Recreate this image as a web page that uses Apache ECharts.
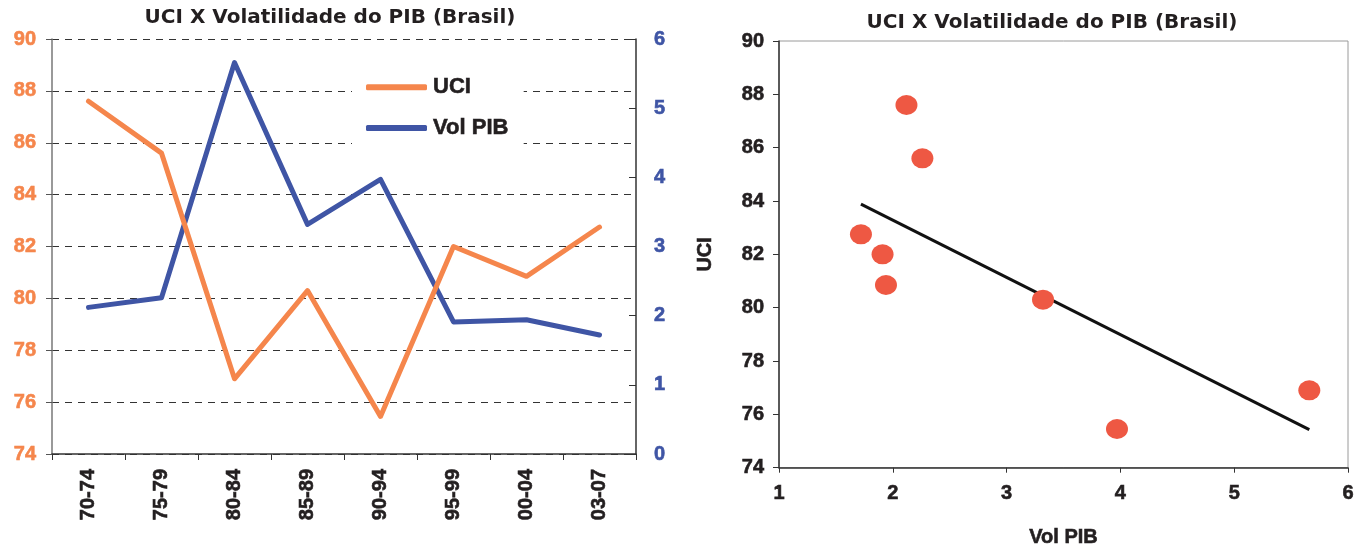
<!DOCTYPE html>
<html>
<head>
<meta charset="utf-8">
<script src="https://cdn.jsdelivr.net/npm/echarts@6/dist/echarts.min.js"></script>
<style>
html,body{margin:0;padding:0;background:#fff;}
#c{width:1367px;height:553px;}
</style>
</head>
<body>
<div id="c"></div>
<script>
const titleText = 'UCI X Volatilidade do PIB (Brasil)';
const categories = ['70-74','75-79','80-84','85-89','90-94','95-99','00-04','03-07'];
const uci = [87.6, 85.6, 76.9, 80.3, 75.45, 82.0, 80.85, 82.75];
const volPib = [2.12, 2.26, 5.66, 3.32, 3.97, 1.91, 1.94, 1.72];

const orange = '#F5864C';
const blue = '#3F55A5';
const red = '#EE5843';
const dark = '#231F20';
const font = 'Liberation Sans';

// scatter pairs and least-squares trend line
const pairs = volPib.map((v, i) => [v, uci[i]]);
const n = pairs.length;
const mx = volPib.reduce((a, b) => a + b, 0) / n;
const my = uci.reduce((a, b) => a + b, 0) / n;
let sxy = 0, sxx = 0;
for (let i = 0; i < n; i++) { sxy += (volPib[i] - mx) * (uci[i] - my); sxx += (volPib[i] - mx) ** 2; }
const slope = sxy / sxx, icpt = my - slope * mx;
const xMin = Math.min(...volPib), xMax = Math.max(...volPib);
const trend = [[xMin, icpt + slope * xMin], [xMax, icpt + slope * xMax]];

const titleStyle = {fontFamily: 'DejaVu Sans', fontWeight: 'bold', fontSize: 20, color: dark};
function lbl(color, extra) {
  return Object.assign({fontFamily: font, fontWeight: 'bold', fontSize: 20, color: color,
    textBorderColor: color, textBorderWidth: 0.6}, extra || {});
}

const chart = echarts.init(document.getElementById('c'), null, {renderer: 'canvas'});
chart.setOption({
  animation: false,
  backgroundColor: '#fff',
  textStyle: {fontFamily: font},
  title: [
    {text: titleText, left: 330, top: 8, textAlign: 'center', padding: 0, textStyle: titleStyle},
    {text: titleText, left: 1052, top: 13, textAlign: 'center', padding: 0, textStyle: titleStyle}
  ],
  legend: {
    data: [{name: 'UCI', icon: 'roundRect'}, {name: 'Vol PIB', icon: 'roundRect'}],
    orient: 'vertical',
    left: 352, top: 62,
    padding: [14, 15, 14, 14],
    itemGap: 18,
    itemWidth: 61, itemHeight: 6,
    backgroundColor: '#fff',
    textStyle: {fontFamily: font, fontWeight: 'bold', fontSize: 22, color: dark,
      textBorderColor: dark, textBorderWidth: 0.6, padding: [0, 0, 0, 1]}
  },
  grid: [
    {left: 52, right: 1367 - 636, top: 39, height: 415, show: false},
    {left: 779, right: 1367 - 1348, top: 41, height: 428, show: true,
     borderColor: '#9a9a9a', borderWidth: 1, backgroundColor: 'transparent'}
  ],
  xAxis: [
    {type: 'category', gridIndex: 0, data: categories, boundaryGap: true,
     axisLine: {lineStyle: {color: '#333', width: 1.5}},
     axisTick: {show: true, length: 6, lineStyle: {color: '#333'}},
     axisLabel: lbl(dark, {rotate: 90, margin: 15}),
     splitLine: {show: false}},
    {type: 'value', gridIndex: 1, min: 1, max: 6, interval: 1,
     name: 'Vol PIB', nameLocation: 'middle', nameGap: 60,
     nameTextStyle: lbl(dark),
     axisLine: {show: true, lineStyle: {color: '#333', width: 1.5}},
     axisTick: {show: true, length: 5, lineStyle: {color: '#333'}},
     axisLabel: lbl(dark, {margin: 16}),
     splitLine: {show: false}}
  ],
  yAxis: [
    {type: 'value', gridIndex: 0, min: 74, max: 90, interval: 2, position: 'left',
     axisLine: {show: true, lineStyle: {color: '#777', width: 1.5}},
     axisTick: {show: true, length: 6, lineStyle: {color: '#555'}},
     axisLabel: lbl(orange, {margin: 16}),
     splitLine: {show: true, lineStyle: {color: '#333', type: [7, 6], width: 1}}},
    {type: 'value', gridIndex: 0, min: 0, max: 6, interval: 1, position: 'right',
     axisLine: {show: true, lineStyle: {color: '#333', width: 1.5}},
     axisTick: {show: true, inside: true, length: 7, lineStyle: {color: '#333'}},
     axisLabel: lbl(blue, {margin: 18}),
     splitLine: {show: false}},
    {type: 'value', gridIndex: 1, min: 74, max: 90, interval: 2,
     name: 'UCI', nameLocation: 'middle', nameGap: 64, nameRotate: 90,
     nameTextStyle: lbl(dark),
     axisLine: {show: true, lineStyle: {color: '#333', width: 1.5}},
     axisTick: {show: true, length: 6, lineStyle: {color: '#333'}},
     axisLabel: lbl(dark, {margin: 15}),
     splitLine: {show: false}}
  ],
  series: [
    {name: 'Vol PIB', type: 'line', xAxisIndex: 0, yAxisIndex: 1, data: volPib,
     symbol: 'none', lineStyle: {color: blue, width: 5, cap: 'round', join: 'round'},
     itemStyle: {color: blue}, z: 3},
    {name: 'UCI', type: 'line', xAxisIndex: 0, yAxisIndex: 0, data: uci,
     symbol: 'none', lineStyle: {color: orange, width: 5, cap: 'round', join: 'round'},
     itemStyle: {color: orange}, z: 4},
    {name: 'trend', type: 'line', xAxisIndex: 1, yAxisIndex: 2, data: trend,
     symbol: 'none', lineStyle: {color: '#111', width: 3}, z: 3},
    {name: 'scatter', type: 'scatter', xAxisIndex: 1, yAxisIndex: 2, data: pairs,
     symbol: 'circle', symbolSize: [22, 20], itemStyle: {color: red, opacity: 1}, z: 4}
  ]
});
</script>
</body>
</html>
